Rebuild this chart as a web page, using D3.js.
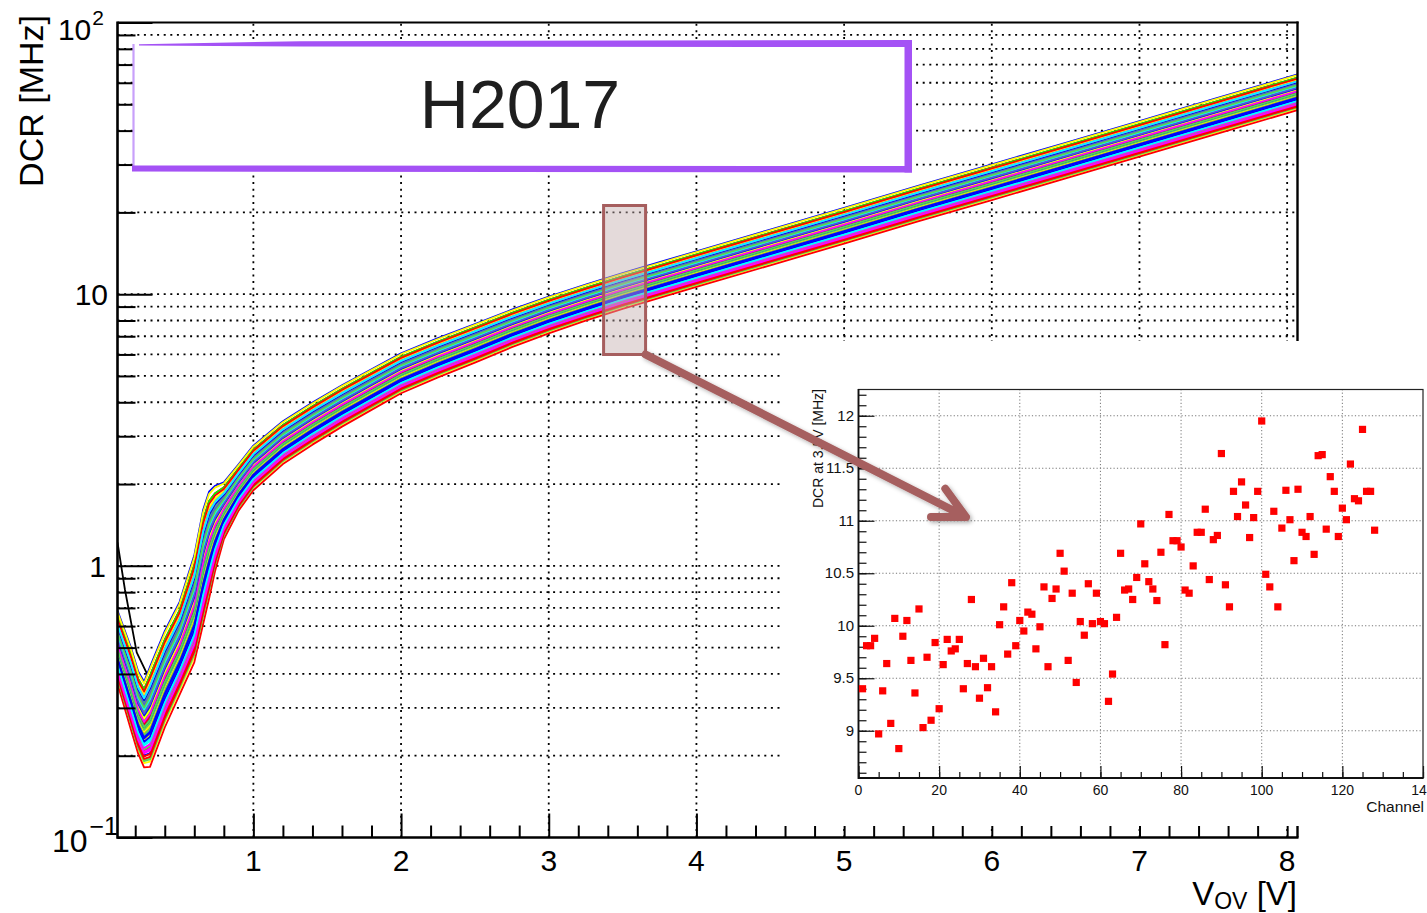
<!DOCTYPE html>
<html>
<head>
<meta charset="utf-8">
<script src="https://cdn.jsdelivr.net/npm/d3@7"></script>
<style>
  html, body { margin: 0; padding: 0; background: #fff; }
  svg { display: block; font-family: "Liberation Sans", Arial, Helvetica, sans-serif; }
</style>
</head>
<body>
<svg id="chart" width="1427" height="913"></svg>
<script>
// ---- DCR vs over-voltage: typical curve shape and channel-to-channel spread ----
const voltage = [0.08, 0.17, 0.22, 0.26, 0.30, 0.40, 0.50, 0.60, 0.66, 0.70, 0.74, 0.80, 0.90, 1.0,
                 1.2, 1.4, 1.6, 1.8, 2.0, 2.25, 2.5, 2.75, 3.0, 3.25, 3.5, 3.75,
                 4.0, 4.5, 5.0, 5.5, 6.0, 6.5, 7.0, 7.5, 8.07];
const dcrMedian = [0.505, 0.357, 0.29, 0.262, 0.28, 0.385, 0.50, 0.70, 1.00, 1.20, 1.38, 1.60, 1.95, 2.30,
                   2.85, 3.35, 3.89, 4.47, 5.13, 5.85, 6.61, 7.50, 8.41, 9.33, 10.3, 11.3,
                   12.4, 14.9, 17.9, 21.6, 25.9, 31.1, 37.4, 45.0, 55.5];
// how strongly the channel spread (relative to 3.5 V) opens up at each voltage
const spreadVsVoltage = [2.05, 2.3, 2.3, 2.4, 2.8, 2.7, 2.6, 3.0, 3.2, 3.0, 2.4, 1.6, 1.3, 1.25,
                         1.2, 1.18, 1.16, 1.14, 1.12, 1.1, 1.08, 1.05, 1.03, 1.01, 1.0, 1.0,
                         1.0, 1.0, 1.0, 1.0, 1.0, 1.0, 1.0, 1.0, 1.0];
// reference trace drawn in black at low over-voltage
const blackVoltage = [0.08, 0.13, 0.21, 0.28];
const blackDcr = [1.22, 0.82, 0.48, 0.40];

// ---- DCR at 3.5 V per channel (channels 1..128) ----
const dcrAt35 = [
  9.40, 9.81, 9.81, 9.88, 8.97, 9.38, 9.64, 9.07, 10.07, 8.83,
  9.90, 10.05, 9.67, 9.36, 10.16, 9.03, 9.70, 9.10, 9.84, 9.21,
  9.63, 9.87, 9.76, 9.78, 9.87, 9.40, 9.64, 10.25, 9.61, 9.31,
  9.69, 9.41, 9.61, 9.18, 10.01, 10.18, 9.73, 10.41, 9.81, 10.05,
  9.95, 10.13, 10.11, 9.78, 9.99, 10.37, 9.61, 10.26, 10.35, 10.69,
  10.52, 9.67, 10.31, 9.46, 10.04, 9.91, 10.40, 10.02, 10.31, 10.04,
  10.02, 9.28, 9.54, 10.08, 10.69, 10.34, 10.35, 10.25, 10.46, 10.97,
  10.59, 10.42, 10.35, 10.24, 10.70, 9.82, 11.06, 10.81, 10.81, 10.75,
  10.34, 10.31, 10.57, 10.89, 10.89, 11.11, 10.44, 10.82, 10.86, 11.64,
  10.39, 10.18, 11.28, 11.04, 11.37, 11.15, 10.84, 11.03, 11.28, 11.95,
  10.49, 10.37, 11.09, 10.18, 10.93, 11.29, 11.01, 10.62, 11.30, 10.89,
  10.85, 11.04, 10.68, 11.62, 11.63, 10.92, 11.42, 11.28, 10.85, 11.12,
  11.01, 11.54, 11.21, 11.19, 11.87, 11.28, 11.28, 10.91
];
const channelColors = ["#ff0000", "#00ff00", "#0000ff", "#ffff00", "#ff00ff", "#00ffff", "#59d454", "#5954d8"];

// ---- axis ticks ----
const xMajorTicks = [1, 2, 3, 4, 5, 6, 7, 8];
const xMinorTicks = d3.range(0.2, 8.01, 0.2).filter(v => Math.abs(v - Math.round(v)) > 1e-6);
const yDecades = [0.1, 1, 10];
const yMantissas = [2, 3, 4, 5, 6, 7, 8, 9];
const yMajorTicks = [0.1, 1, 10, 100];
const insetXMajor = [0, 20, 40, 60, 80, 100, 120, 140];
const insetYMajor = [9, 9.5, 10, 10.5, 11, 11.5, 12];
const insetYLabels = ["9", "9.5", "10", "10.5", "11", "11.5", "12"];

const svg = d3.select("#chart");
const defs = svg.append("defs");

// ================= main plot =================
const x = d3.scaleLinear().domain([0.08, 8.07]).range([117.5, 1297.5]);
const y = d3.scaleLog().domain([0.1, 100]).range([837.5, 22.5]);

defs.append("clipPath").attr("id", "plotArea")
  .append("rect").attr("x", 117.5).attr("y", 22.5).attr("width", 1180).attr("height", 815);

const yMinorTicks = yDecades.flatMap(d => yMantissas.map(m => d * m));

// dotted grid
const grid = svg.append("g").attr("stroke", "#000").attr("stroke-width", 1.8)
  .attr("stroke-dasharray", "2 4.6");
grid.selectAll("line.h").data(yMinorTicks.concat([1, 10])).join("line")
  .attr("class", "h")
  .attr("x1", x.range()[0]).attr("x2", x.range()[1])
  .attr("y1", d => y(d)).attr("y2", d => y(d));
grid.selectAll("line.v").data(xMajorTicks).join("line")
  .attr("class", "v")
  .attr("x1", d => x(d)).attr("x2", d => x(d))
  .attr("y1", y.range()[0]).attr("y2", y.range()[1]);

// curves
const ref35 = dcrMedian[voltage.indexOf(3.5)];
const line = d3.line().x(d => x(d[0])).y(d => y(d[1]));
const curves = svg.append("g").attr("clip-path", "url(#plotArea)")
  .attr("fill", "none").attr("stroke-width", 1.8).attr("stroke-linejoin", "round");
curves.append("path")
  .attr("d", line(blackVoltage.map((v, k) => [v, blackDcr[k]])))
  .attr("stroke", "#000");
dcrAt35.forEach((val, i) => {
  const channel = i + 1;
  const ratio = val / ref35;
  const pts = voltage.map((v, k) => [v, dcrMedian[k] * Math.pow(ratio, spreadVsVoltage[k])]);
  curves.append("path").attr("d", line(pts))
    .attr("stroke", channelColors[(channel + 6) % 8]);
});

// axes (ticks on the inside)
function styleAxis(g) {
  g.select(".domain").remove();
  g.selectAll(".tick line").attr("stroke", "#000").attr("stroke-width", 2);
  g.selectAll(".tick text").remove();
}
svg.append("g").attr("transform", "translate(0,837.5)")
  .call(d3.axisTop(x).tickValues(xMinorTicks).tickSize(12).tickSizeOuter(0)).call(styleAxis);
svg.append("g").attr("transform", "translate(0,837.5)")
  .call(d3.axisTop(x).tickValues(xMajorTicks).tickSize(24).tickSizeOuter(0)).call(styleAxis);
svg.append("g").attr("transform", "translate(117.5,0)")
  .call(d3.axisRight(y).tickValues(yMinorTicks).tickSize(18).tickSizeOuter(0)).call(styleAxis);
svg.append("g").attr("transform", "translate(117.5,0)")
  .call(d3.axisRight(y).tickValues(yMajorTicks).tickSize(35).tickSizeOuter(0)).call(styleAxis);

// frame
const frame = svg.append("g").attr("stroke", "#000").attr("fill", "none");
frame.append("line").attr("x1", 117.5).attr("x2", 1298.5).attr("y1", 837.5).attr("y2", 837.5).attr("stroke-width", 2.6);
frame.append("line").attr("x1", 117.5).attr("x2", 117.5).attr("y1", 21.5).attr("y2", 838.8).attr("stroke-width", 2.6);
frame.append("line").attr("x1", 117.5).attr("x2", 1298.5).attr("y1", 22.5).attr("y2", 22.5).attr("stroke-width", 2);
frame.append("line").attr("x1", 1297.5).attr("x2", 1297.5).attr("y1", 21.5).attr("y2", 837.5).attr("stroke-width", 2.4);

// tick labels
svg.append("g").attr("font-size", 30).attr("text-anchor", "middle").attr("fill", "#000")
  .selectAll("text").data(xMajorTicks).join("text")
  .attr("x", d => x(d)).attr("y", 871).text(d => d);

const yl = svg.append("g").attr("fill", "#000").attr("text-anchor", "end");
const lab100 = yl.append("text").attr("x", 104).attr("y", 40).attr("font-size", 30);
lab100.append("tspan").text("10");
lab100.append("tspan").attr("dx", 1).attr("dy", -15).attr("font-size", 21).text("2");
yl.append("text").attr("x", 108).attr("y", y(10) + 11).attr("font-size", 30).text("10");
yl.append("text").attr("x", 106).attr("y", y(1) + 11).attr("font-size", 30).text("1");
const lab01 = yl.append("text").attr("x", 118).attr("y", 852).attr("font-size", 32);
lab01.append("tspan").text("10");
lab01.append("tspan").attr("dx", 2).attr("dy", -17).attr("font-size", 25).text("\u22121");

// axis titles
svg.append("text").attr("transform", "translate(43,15) rotate(-90)")
  .attr("text-anchor", "end").attr("font-size", 34).text("DCR [MHz]");
const xt = svg.append("text").attr("x", 1297).attr("y", 905).attr("text-anchor", "end").attr("font-size", 33);
xt.append("tspan").text("V");
xt.append("tspan").attr("dy", 4).attr("font-size", 23).text("OV");
xt.append("tspan").attr("dy", -4).text(" [V]");

// ================= label box =================
const purple = "#a452f5";
svg.append("rect").attr("x", 133).attr("y", 43).attr("width", 775).attr("height", 126).attr("fill", "#fff");
svg.append("line").attr("x1", 133.5).attr("x2", 133.5).attr("y1", 44).attr("y2", 170)
  .attr("stroke", "#c8a0fb").attr("stroke-width", 2.2);
svg.append("path").attr("fill", purple)
  .attr("d", "M139,44.2 L300,41.2 L912,40 L912,47 L300,46.5 L139,45.6 Z");
svg.append("path").attr("fill", purple)
  .attr("d", "M132,165.5 L912,166 L912,172.5 L132,171.5 Z");
svg.append("rect").attr("x", 904.5).attr("y", 40).attr("width", 7.5).attr("height", 132.5).attr("fill", purple);
svg.append("text").attr("x", 520).attr("y", 128).attr("text-anchor", "middle")
  .attr("font-size", 68).attr("fill", "#1e1e1e").text("H2017");

// ================= inset: DCR at 3.5 V per channel =================
svg.append("rect").attr("x", 783).attr("y", 341).attr("width", 644).attr("height", 485).attr("fill", "#fff");

const xi = d3.scaleLinear().domain([0, 140]).range([858.5, 1423]);
const yi = d3.scaleLinear().domain([8.55, 12.25]).range([778, 389.5]);

const ig = svg.append("g").attr("stroke", "#777").attr("stroke-width", 1).attr("stroke-dasharray", "1.2 2.2");
ig.selectAll("line.v").data(insetXMajor.filter(d => d > 0 && d < 140)).join("line")
  .attr("x1", d => xi(d)).attr("x2", d => xi(d)).attr("y1", yi.range()[0]).attr("y2", yi.range()[1]);
ig.selectAll("line.h").data(insetYMajor).join("line")
  .attr("x1", xi.range()[0]).attr("x2", xi.range()[1]).attr("y1", d => yi(d)).attr("y2", d => yi(d));

function styleInsetAxis(g) {
  g.select(".domain").remove();
  g.selectAll(".tick line").attr("stroke", "#111").attr("stroke-width", 1.2);
  g.selectAll(".tick text").remove();
}
svg.append("g").attr("transform", "translate(0,778)")
  .call(d3.axisTop(xi).tickValues(d3.range(0, 141, 5)).tickSize(6).tickSizeOuter(0)).call(styleInsetAxis);
svg.append("g").attr("transform", "translate(0,778)")
  .call(d3.axisTop(xi).tickValues(insetXMajor).tickSize(12).tickSizeOuter(0)).call(styleInsetAxis);
svg.append("g").attr("transform", "translate(858.5,0)")
  .call(d3.axisRight(yi).tickValues(d3.range(8.6, 12.25, 0.1)).tickSize(8).tickSizeOuter(0)).call(styleInsetAxis);
svg.append("g").attr("transform", "translate(858.5,0)")
  .call(d3.axisRight(yi).tickValues(insetYMajor).tickSize(16).tickSizeOuter(0)).call(styleInsetAxis);

svg.append("rect").attr("x", 858.5).attr("y", 389.5).attr("width", 564.5).attr("height", 388.5)
  .attr("fill", "none").attr("stroke", "#222").attr("stroke-width", 1.2);
svg.append("line").attr("x1", 858.5).attr("x2", 858.5).attr("y1", 389).attr("y2", 779)
  .attr("stroke", "#111").attr("stroke-width", 1.8);
svg.append("line").attr("x1", 858).attr("x2", 1423.5).attr("y1", 778).attr("y2", 778)
  .attr("stroke", "#111").attr("stroke-width", 1.8);

svg.append("g").attr("fill", "#ff0000")
  .selectAll("rect").data(dcrAt35).join("rect")
  .attr("x", (d, i) => xi(i + 1) - 3.6).attr("y", d => yi(d) - 3.6)
  .attr("width", 7.2).attr("height", 7.2);

svg.append("g").attr("font-size", 14).attr("text-anchor", "middle").attr("fill", "#111")
  .selectAll("text").data(insetXMajor).join("text")
  .attr("x", d => xi(d)).attr("y", 795).text(d => d);
svg.append("g").attr("font-size", 15).attr("text-anchor", "end").attr("fill", "#111")
  .selectAll("text").data(insetYMajor).join("text")
  .attr("x", 854).attr("y", d => yi(d) + 5).text((d, i) => insetYLabels[i]);
svg.append("text").attr("x", 1424).attr("y", 812).attr("text-anchor", "end")
  .attr("font-size", 15.5).attr("fill", "#111").text("Channel");
svg.append("text").attr("transform", "translate(823,389) rotate(-90)")
  .attr("text-anchor", "end").attr("font-size", 14).attr("fill", "#111").text("DCR at 3.5V [MHz]");

// ================= highlight of the 3.5 V slice and pointer =================
const accent = "#a65e5e";
const hx = x(3.5);
svg.append("rect").attr("x", hx - 19).attr("y", 205.5).attr("width", 42).attr("height", 149)
  .attr("fill", "rgba(195,172,172,0.45)").attr("stroke", accent).attr("stroke-width", 3);

const shadow = defs.append("filter").attr("id", "shadow").attr("x", "-10%").attr("y", "-10%")
  .attr("width", "130%").attr("height", "130%");
shadow.append("feDropShadow").attr("dx", 2).attr("dy", 2).attr("stdDeviation", 2)
  .attr("flood-color", "#000").attr("flood-opacity", 0.3);

const tip = [966, 517];
const start = [hx + 23, 354.5];
const ang = Math.atan2(tip[1] - start[1], tip[0] - start[0]);
const barb = 35, spread = 0.47;
const b1 = [tip[0] - barb * Math.cos(ang - spread), tip[1] - barb * Math.sin(ang - spread)];
const b2 = [tip[0] - barb * Math.cos(ang + spread), tip[1] - barb * Math.sin(ang + spread)];
svg.append("path").attr("filter", "url(#shadow)")
  .attr("d", `M${start[0]},${start[1]} L${tip[0]},${tip[1]} M${b1[0]},${b1[1]} L${tip[0]},${tip[1]} L${b2[0]},${b2[1]}`)
  .attr("fill", "none").attr("stroke", accent).attr("stroke-width", 8)
  .attr("stroke-linecap", "round").attr("stroke-linejoin", "round");
</script>
</body>
</html>
